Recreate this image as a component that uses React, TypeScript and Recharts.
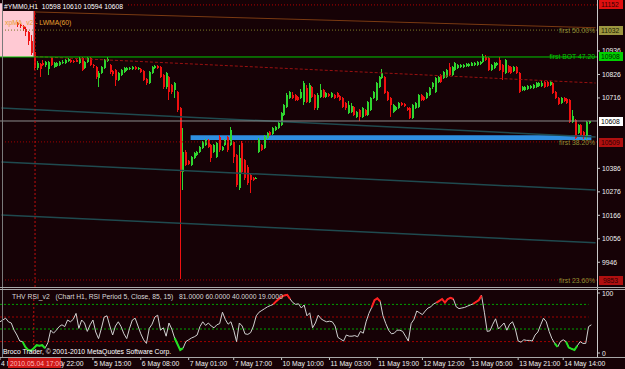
import React from 'react';
import { ComposedChart, Bar, Line, XAxis, YAxis, ReferenceLine, ReferenceArea } from 'recharts';

const BG = '#160206';
const FONT = '"Liberation Sans", Arial, sans-serif';
const FS = 6.8;
const BULL = '#2fd42f';
const BEAR = '#f01010';
const N = 213; // hourly slots on the time axis

// YM H1 candles, 4 May -> 14 May 2010 (first six bars are above the visible range)
const opens = [
  null, null, null, null, null, null, 11067, 11058, 11053, 11040,
  11025, 10985, 10930, 10855, 10875, 10880, 10870, 10850, 10903, 10861,
  10868, 10871, 10878, 10880, 10888, 10894, 10890, 10893, 10880, 10903,
  10856, 10885, 10903, 10871, 10861, 10810, 10833, 10856, 10890, 10871,
  10840, 10847, 10800, 10824, 10838, 10847, 10850, 10852, 10860, 10852,
  10852, 10842, 10805, 10786, 10833, 10858, 10866, 10861, 10824, 10767,
  10814, 10777, 10753, 10744, 10669, 10369, 10463, 10421, 10402, 10435,
  10449, 10463, 10480, 10496, 10519, 10496, 10463, 10440, 10533, 10472,
  10496, 10533, 10496, 10510, 10449, 10294, 10505, 10426, 10393, 10355,
  10341, 10341, 10463, 10496, 10482, 10529, 10557, 10548, 10566, 10575,
  10590, 10636, 10674, 10716, 10730, 10730, 10721, 10716, 10697, 10763,
  10697, 10767, 10730, 10669, 10721, 10753, 10721, 10735, 10721, 10730,
  10739, 10726, 10716, 10693, 10646, 10650, 10674, 10627, 10660, 10627,
  10660, 10636, 10660, 10716, 10707, 10767, 10810, 10814, 10744, 10716,
  10650, 10660, 10669, 10690, 10688, 10669, 10669, 10622, 10669, 10674,
  10730, 10721, 10716, 10730, 10767, 10744, 10791, 10824, 10810, 10814,
  10861, 10824, 10847, 10856, 10860, 10861, 10866, 10866, 10868, 10871,
  10871, 10876, 10885, 10908, 10903, 10847, 10856, 10871, 10894, 10871,
  10833, 10866, 10861, 10843, 10861, 10833, 10753, 10755, 10760, 10763,
  10763, 10767, 10772, 10772, 10791, 10791, 10777, 10786, 10744, 10716,
  10693, 10716, 10711, 10707, 10604, 10613, 10552, 10590, 10557, 10533, 10598,
];
const highs = [
  null, null, null, null, null, null, 11072, 11063, 11058, 11049,
  11030, 11010, 11160, 10890, 10880, 10894, 10890, 10890, 10908, 10885,
  10885, 10890, 10892, 10899, 10903, 10899, 10896, 10897, 10910, 10908,
  10890, 10910, 10908, 10876, 10866, 10840, 10866, 10900, 10908, 10876,
  10845, 10852, 10838, 10852, 10861, 10860, 10862, 10864, 10866, 10863,
  10856, 10847, 10810, 10842, 10866, 10871, 10871, 10866, 10828, 10838,
  10820, 10782, 10791, 10750, 10675, 10575, 10470, 10426, 10445, 10463,
  10468, 10490, 10515, 10524, 10524, 10500, 10500, 10510, 10540, 10492,
  10524, 10538, 10580, 10515, 10455, 10496, 10512, 10432, 10400, 10360,
  10346, 10346, 10529, 10500, 10540, 10557, 10562, 10580, 10585, 10604,
  10650, 10688, 10740, 10750, 10744, 10735, 10726, 10760, 10795, 10775,
  10786, 10772, 10735, 10740, 10780, 10758, 10744, 10740, 10744, 10735,
  10744, 10730, 10721, 10697, 10700, 10690, 10680, 10655, 10665, 10674,
  10665, 10702, 10721, 10750, 10790, 10820, 10850, 10820, 10750, 10721,
  10688, 10680, 10697, 10695, 10693, 10674, 10674, 10688, 10697, 10735,
  10735, 10726, 10744, 10767, 10791, 10815, 10820, 10830, 10842, 10852,
  10880, 10866, 10885, 10876, 10876, 10876, 10880, 10880, 10885, 10886,
  10890, 10890, 10920, 10915, 10908, 10876, 10885, 10885, 10908, 10876,
  10899, 10871, 10866, 10866, 10866, 10838, 10772, 10772, 10775, 10777,
  10782, 10791, 10791, 10795, 10795, 10795, 10795, 10791, 10748, 10721,
  10721, 10721, 10716, 10712, 10660, 10618, 10595, 10595, 10562, 10610, 10610,
];
const lows = [
  null, null, null, null, null, null, 11050, 11044, 11030, 11005,
  10964, 10915, 10845, 10845, 10814, 10865, 10860, 10824, 10866, 10856,
  10862, 10866, 10874, 10875, 10884, 10882, 10880, 10883, 10876, 10842,
  10852, 10880, 10866, 10858, 10805, 10767, 10828, 10850, 10885, 10830,
  10820, 10772, 10795, 10820, 10833, 10843, 10846, 10848, 10848, 10847,
  10834, 10795, 10775, 10781, 10828, 10852, 10852, 10810, 10758, 10760,
  10707, 10735, 10716, 10650, 9868, 10285, 10395, 10400, 10395, 10430,
  10444, 10458, 10475, 10490, 10480, 10416, 10458, 10435, 10465, 10468,
  10490, 10465, 10490, 10412, 10300, 10285, 10360, 10332, 10310, 10271,
  10325, 10336, 10458, 10468, 10476, 10524, 10538, 10543, 10562, 10570,
  10585, 10630, 10669, 10710, 10710, 10700, 10702, 10710, 10683, 10690,
  10690, 10716, 10660, 10660, 10716, 10716, 10716, 10721, 10716, 10712,
  10716, 10702, 10669, 10660, 10640, 10645, 10630, 10622, 10610, 10620,
  10632, 10630, 10655, 10710, 10702, 10763, 10805, 10735, 10700, 10627,
  10645, 10655, 10664, 10678, 10675, 10655, 10615, 10618, 10664, 10669,
  10702, 10702, 10712, 10726, 10760, 10740, 10786, 10786, 10805, 10810,
  10819, 10819, 10842, 10852, 10856, 10858, 10862, 10862, 10864, 10868,
  10866, 10872, 10880, 10890, 10842, 10842, 10852, 10866, 10842, 10800,
  10828, 10833, 10828, 10838, 10828, 10739, 10748, 10750, 10755, 10758,
  10758, 10763, 10767, 10767, 10763, 10767, 10772, 10735, 10712, 10683,
  10688, 10697, 10688, 10599, 10599, 10524, 10548, 10538, 10524, 10524, 10594,
];
const closes = [
  null, null, null, null, null, null, 11058, 11053, 11040, 11025,
  10985, 10925, 10855, 10880, 10850, 10870, 10885, 10885, 10871, 10880,
  10880, 10885, 10886, 10894, 10897, 10886, 10884, 10886, 10903, 10847,
  10885, 10903, 10871, 10865, 10814, 10833, 10861, 10894, 10899, 10838,
  10828, 10800, 10833, 10847, 10856, 10856, 10858, 10860, 10852, 10858,
  10838, 10800, 10786, 10838, 10861, 10866, 10858, 10814, 10767, 10833,
  10744, 10744, 10786, 10660, 10369, 10463, 10402, 10407, 10440, 10458,
  10463, 10486, 10510, 10519, 10486, 10435, 10496, 10505, 10472, 10486,
  10519, 10472, 10566, 10440, 10308, 10435, 10369, 10341, 10318, 10332,
  10332, 10341, 10519, 10472, 10533, 10552, 10543, 10575, 10580, 10599,
  10646, 10683, 10730, 10744, 10716, 10707, 10707, 10744, 10786, 10697,
  10777, 10721, 10669, 10730, 10753, 10721, 10739, 10726, 10739, 10716,
  10721, 10707, 10674, 10669, 10683, 10680, 10636, 10650, 10627, 10669,
  10636, 10697, 10716, 10744, 10786, 10814, 10833, 10739, 10707, 10683,
  10683, 10674, 10693, 10683, 10680, 10660, 10622, 10683, 10693, 10730,
  10707, 10707, 10739, 10763, 10786, 10810, 10814, 10791, 10838, 10847,
  10824, 10861, 10880, 10871, 10871, 10871, 10876, 10876, 10880, 10882,
  10885, 10885, 10913, 10894, 10847, 10871, 10880, 10880, 10847, 10838,
  10894, 10838, 10833, 10861, 10833, 10744, 10767, 10767, 10770, 10772,
  10777, 10786, 10786, 10786, 10767, 10772, 10791, 10739, 10716, 10688,
  10716, 10702, 10693, 10604, 10632, 10529, 10590, 10543, 10533, 10604, 10608,
];

// THV RSI(5) values per bar
const rsi = [
  52, 55, 58, 52, 50, 38, 30, 20, 19, 10,
  5, 4, 8, 13, 12, 13, 8, 17, 38, 33,
  38, 44, 47, 44, 55, 52, 56, 66, 41, 55,
  50, 36, 47, 55, 35, 24, 41, 60, 62, 45,
  30, 45, 52, 44, 32, 24, 41, 55, 58, 45,
  32, 22, 16, 41, 48, 60, 63, 38, 42, 28,
  50, 40, 25, 15, 5, 8, 19, 22, 25, 27,
  30, 44, 52, 46, 50, 45, 42, 47, 49, 68,
  56, 48, 52, 38, 19, 50, 45, 32, 31, 34,
  45, 62, 68, 71, 74, 77, 79, 81, 86, 90,
  94, 96, 97, 90, 84, 81, 82, 75, 80, 62,
  67, 42, 50, 63, 57, 54, 52, 53, 52, 45,
  26, 23, 20, 30, 28, 28, 29, 27, 36, 33,
  52, 66, 76, 88, 91, 86, 62, 49, 38, 32,
  33, 38, 38, 36, 28, 20, 49, 56, 70, 67,
  64, 70, 75, 77, 82, 84, 87, 90, 84, 90,
  92, 90, 77, 74, 75, 76, 78, 80, 82, 85,
  88, 96, 68, 36, 37, 48, 57, 40, 45, 50,
  38, 48, 52, 40, 20, 18, 22, 21, 21, 20,
  30, 35, 47, 58, 52, 36, 24, 16, 10, 19,
  22, 19, 9, 7, 5, 12, 19, 16, 16, 44, 47,
];

// visible price scale labels (the rest sit under the level boxes)
const priceTicks = [9946, 10056, 10166, 10276, 10386, 10716, 10826, 10936];
const rsiLevels = [81, 60, 40, 19];
const timeTickIdx = [0, 16, 33, 50, 67, 83, 100, 117, 134, 150, 167, 184, 200];
const timeTickLabels = [
  '4 May 05:00', '4 May 22:00', '5 May 15:00', '6 May 08:00', '7 May 01:00', '7 May 17:00',
  '10 May 10:00', '11 May 03:00', '11 May 19:00', '12 May 12:00', '13 May 05:00', '13 May 21:00', '14 May 14:00',
];

const data = Array.from({ length: N }, (_, i) => {
  const r = i < rsi.length ? rsi[i] : null;
  const next = i + 1 < rsi.length ? rsi[i + 1] : null;
  return {
    i,
    o: opens[i] ?? null,
    h: highs[i] ?? null,
    l: lows[i] ?? null,
    c: closes[i] ?? null,
    r,
    rHi: r != null && (r >= 85 || (next != null && next >= 85)) ? r : null,
    rLo: r != null && (r <= 15 || (next != null && next <= 15)) ? r : null,
  };
});

const Candle = (props: any) => {
  const { x, y, width, height, payload } = props;
  if (!payload || payload.h == null) return <g />;
  let top = y;
  let hgt = height;
  if (hgt < 0) { top = y + hgt; hgt = -hgt; }
  const { o, h, l, c } = payload;
  const span = h - l || 1;
  const py = (v: number) => top + ((h - v) / span) * hgt;
  const bx = Math.round(x + width / 2 - 1);
  const col = c >= o ? BULL : BEAR;
  const b1 = py(Math.max(o, c));
  const b2 = py(Math.min(o, c));
  return (
    <g shapeRendering="crispEdges">
      <rect x={bx} y={top} width={1} height={Math.max(1, hgt)} fill={col} />
      <rect x={bx} y={b1} width={2} height={Math.max(1, b2 - b1)} fill={col} />
    </g>
  );
};

const PriceTick = ({ x, y, payload }: any) => (
  <g>
    <line x1={x} x2={x + 3} y1={y} y2={y} stroke="#c8c8c8" />
    <text x={x + 5} y={y + 2.5} fill="#f0f0f0" fontSize={FS} fontFamily={FONT}>{payload.value}</text>
  </g>
);

const TimeTick = ({ x, y, payload }: any) => {
  const k = timeTickIdx.indexOf(payload.value);
  return (
    <g>
      <line x1={x} x2={x} y1={y + 4} y2={y + 7} stroke="#c8c8c8" />
      <text x={x + 1} y={y + 13} fill="#f0f0f0" fontSize={FS} fontFamily={FONT}>{timeTickLabels[k]}</text>
    </g>
  );
};

const Overlay = () => (
  <svg width={625} height={369} style={{ position: 'absolute', left: 0, top: 0, pointerEvents: 'none' }}
    fontFamily={FONT} fontSize={FS}>
    <rect x={2} y={0} width={1} height={357} fill="#7a7a7a" />
    <rect x={597} y={0} width={1} height={357} fill="#c8c8c8" />
    <rect x={0} y={287} width={625} height={1} fill="#a8a8a8" />
    <rect x={0} y={289} width={625} height={1} fill="#a8a8a8" />
    <rect x={0} y={357} width={625} height={1} fill="#a8a8a8" />

    <rect x={3} y={2} width={123} height={9} fill={BG} />
    <text x={4} y={9} fill="#ffffff" style={{ whiteSpace: 'pre' }}>#YMM0,H1  10598 10610 10594 10608</text>
    <text x={5} y={25} fill="#e8a030">xpMA_v2 - LWMA(60)</text>

    <text x={595} y={33} fill="#8f8f35" textAnchor="end">first 50.00%</text>
    <text x={595} y={59} fill="#00cc00" textAnchor="end">first BOT 47.20</text>
    <text x={595} y={145} fill="#8f8f35" textAnchor="end">first 38.20%</text>
    <text x={595} y={283} fill="#8f8f35" textAnchor="end">first 23.60%</text>

    <rect x={599} y={0} width={24} height={9} fill="#e01010" />
    <text x={601} y={7} fill="#3a0000">11152</text>
    <rect x={599} y={26} width={24} height={9} fill="#9d9640" />
    <text x={601} y={33} fill="#1a1a00">11032</text>
    <rect x={599} y={52} width={24} height={9} fill="#00d000" />
    <text x={601} y={59} fill="#002200">10908</text>
    <rect x={599} y={117} width={24} height={9} fill="#ffffff" />
    <text x={601} y={124} fill="#000000">10608</text>
    <rect x={599} y={138} width={24} height={9} fill="#b01010" />
    <text x={601} y={145} fill="#300000">10509</text>
    <rect x={599} y={276} width={24} height={9} fill="#b01010" />
    <text x={603} y={283} fill="#300000">9853</text>

    <text x={12} y={299} fill="#d8d8d8" style={{ whiteSpace: 'pre' }}>
      THV RSI_v2   (Chart H1, RSI Period 5, Close, 85, 15)   81.0000 60.0000 40.0000 19.0000
    </text>
    <text x={3} y={354} fill="#ffffff">Broco Trader, © 2001-2010 MetaQuotes Software Corp.</text>

    <rect x={8} y={358} width={53} height={10} fill="#d01818" />
    <text x={10} y={366} fill="#ffb8b8">2010.05.04 17:00</text>
  </svg>
);

export default function App() {
  return (
    <div style={{ position: 'fixed', left: 0, top: 0, width: 625, height: 369, background: BG, overflow: 'hidden' }}>
      <div style={{ position: 'absolute', left: 0, top: 0 }}>
        <ComposedChart width={625} height={287} data={data} margin={{ top: 0, right: 0, bottom: 0, left: 0 }} barSize={3}>
          <XAxis dataKey="i" type="category" hide />
          <YAxis orientation="right" width={28} domain={[9830, 11175]} allowDataOverflow ticks={priceTicks}
            interval={0} tick={<PriceTick />} tickLine={false} tickSize={0} tickMargin={0} axisLine={false} />
          <ReferenceArea x1={0} x2={11} y1={10908} y2={11160} fill="#ffc9d3" fillOpacity={1} stroke="none" />
          <ReferenceLine y={11152} stroke="#b00000" strokeDasharray="1 2" />
          <ReferenceLine y={11034} stroke="#7a7a25" strokeDasharray="1 2" />
          <ReferenceLine y={10510} stroke="#a00000" strokeDasharray="1 2" />
          <ReferenceLine y={9863} stroke="#a00000" strokeDasharray="1 2" />
          <ReferenceLine segment={[{ x: 12, y: 11119 }, { x: 212, y: 11045 }]} stroke="#7a3a12" />
          <ReferenceLine segment={[{ x: 12, y: 10910 }, { x: 212, y: 10786 }]} stroke="#9a1010" strokeDasharray="3 2" />
          <ReferenceLine segment={[{ x: 0, y: 10669 }, { x: 212, y: 10533 }]} stroke="#1f4a4f" strokeWidth={1.5} />
          <ReferenceLine segment={[{ x: 0, y: 10416 }, { x: 212, y: 10285 }]} stroke="#1f4a4f" strokeWidth={1.5} />
          <ReferenceLine segment={[{ x: 0, y: 10168 }, { x: 212, y: 10037 }]} stroke="#1f4a4f" strokeWidth={1.5} />
          <ReferenceLine y={10608} stroke="#8c8c8c" />
          <ReferenceLine y={10908} stroke="#00c800" />
          <ReferenceLine x={12} stroke="#c01010" strokeDasharray="2 2" />
          <Bar dataKey={(d: any) => (d.h == null ? null : [d.l, d.h])} shape={<Candle />} isAnimationActive={false} />
          <ReferenceArea x1={68} x2={210} y1={10519} y2={10541} fill="#2f8fe0" fillOpacity={1} stroke="none" />
        </ComposedChart>
      </div>
      <div style={{ position: 'absolute', left: 0, top: 289 }}>
        <ComposedChart width={625} height={80} data={data} margin={{ top: 4, right: 0, bottom: 0, left: 0 }}>
          <XAxis dataKey="i" type="category" ticks={timeTickIdx} interval={0} tick={<TimeTick />}
            tickLine={false} tickSize={0} tickMargin={0} axisLine={false} height={16} />
          <YAxis orientation="right" width={28} domain={[0, 100]} ticks={[0, 100]} interval={0}
            tick={<PriceTick />} tickLine={false} tickSize={0} tickMargin={0} axisLine={false} />
          {rsiLevels.map((lv, k) => (
            <ReferenceLine key={lv} segment={[{ x: 0, y: lv }, { x: 209, y: lv }]}
              stroke={k % 2 === 0 ? '#00a000' : '#a00000'} strokeDasharray="2 2" />
          ))}
          <ReferenceLine x={12} stroke="#c01010" strokeDasharray="2 2" />
          <Line dataKey="r" stroke="#d0d0d0" strokeWidth={1} dot={false} isAnimationActive={false} connectNulls={false} />
          <Line dataKey="rHi" stroke="#ff2020" strokeWidth={2} dot={false} isAnimationActive={false} connectNulls={false} />
          <Line dataKey="rLo" stroke="#22e022" strokeWidth={2} dot={false} isAnimationActive={false} connectNulls={false} />
        </ComposedChart>
      </div>
      <Overlay />
    </div>
  );
}
